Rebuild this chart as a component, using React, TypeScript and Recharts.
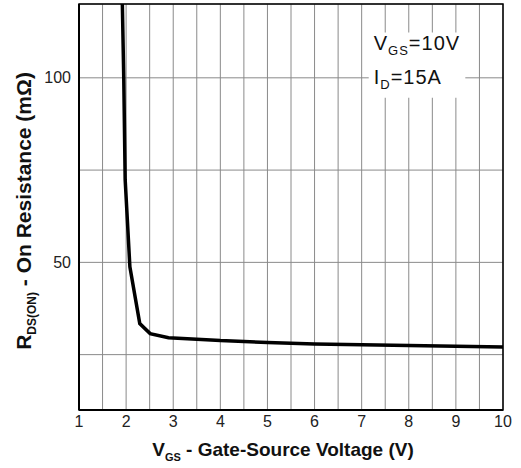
import React from 'react';
import {
  LineChart,
  Line,
  XAxis,
  YAxis,
  CartesianGrid,
  ReferenceArea,
} from 'recharts';

// Vgs (V) vs Rds(on) (mOhm)
const vgs = [1.92, 1.95, 1.98, 2.08, 2.29, 2.51, 2.9, 3.5, 4, 5, 6, 7, 8, 9, 10];
const rdsOn = [120, 100, 72.4, 48.8, 33.4, 30.7, 29.6, 29.2, 28.8, 28.3, 27.9, 27.7, 27.5, 27.3, 27.1];

const xTicks = [1, 1.5, 2, 2.5, 3, 3.5, 4, 4.5, 5, 5.5, 6, 6.5, 7, 7.5, 8, 8.5, 9, 9.5, 10];
const yTicks = [25, 50, 75, 100];
const yLabelled = [50, 100];

const data = vgs.map((v, i) => ({ vgs: v, rds: rdsOn[i] }));

const FONT = '"Liberation Sans", Arial, sans-serif';

function XTitle(props: any) {
  const { viewBox } = props;
  const cx = viewBox.x + viewBox.width / 2 - 8;
  return (
    <text x={cx} y={viewBox.y + 46} textAnchor="middle" fontFamily={FONT} fontWeight="bold" fontSize={19} fill="#111">
      <tspan>V</tspan>
      <tspan fontSize={11} dy={5}>GS</tspan>
      <tspan dy={-5}> - Gate-Source Voltage (V)</tspan>
    </text>
  );
}

function YTitle() {
  const cy = 211;
  const x = 31;
  return (
    <text
      x={x}
      y={cy}
      transform={`rotate(-90 ${x} ${cy})`}
      textAnchor="middle"
      fontFamily={FONT}
      fontWeight="bold"
      fontSize={21}
      fill="#111"
    >
      <tspan>R</tspan>
      <tspan fontSize={12} dy={5}>DS(ON)</tspan>
      <tspan dy={-5}> - On Resistance (mΩ)</tspan>
    </text>
  );
}

function Conditions(props: any) {
  const { viewBox } = props;
  const x = viewBox.x + 5;
  return (
    <g fontFamily={FONT} fontSize={20} fill="#111" letterSpacing={1}>
      <text x={x} y={viewBox.y + 18}>
        <tspan>V</tspan>
        <tspan fontSize={13} dy={5}>GS</tspan>
        <tspan dy={-5}>=10V</tspan>
      </text>
      <text x={x} y={viewBox.y + 52}>
        <tspan>I</tspan>
        <tspan fontSize={13} dy={5}>D</tspan>
        <tspan dy={-5}>=15A</tspan>
      </text>
    </g>
  );
}

export default function App() {
  return (
    <div style={{ position: 'absolute', left: 0, top: 0, width: 521, height: 468, background: '#fff' }}>
      <LineChart width={521} height={468} data={data} margin={{ top: 4, right: 18, bottom: 0, left: 0 }}>
        <CartesianGrid stroke="#8a8a8a" strokeWidth={1} />
        <XAxis
          dataKey="vgs"
          type="number"
          domain={[1, 10]}
          ticks={xTicks}
          interval={0}
          tickFormatter={(v: number) => (Number.isInteger(v) ? String(v) : '')}
          tickLine={false}
          axisLine={{ stroke: '#000', strokeWidth: 2 }}
          tick={{ fill: '#222', fontSize: 16, fontFamily: FONT, dy: -2 }}
          height={58}
          label={<XTitle />}
        />
        <YAxis
          type="number"
          domain={[10, 120]}
          ticks={yTicks}
          allowDataOverflow
          interval={0}
          tickFormatter={(v: number) => (yLabelled.includes(v) ? String(v) : '')}
          tickLine={false}
          axisLine={{ stroke: '#000', strokeWidth: 2 }}
          tick={{ fill: '#222', fontSize: 16, fontFamily: FONT }}
          width={79}
          label={<YTitle />}
        />
        <ReferenceArea x1={1} x2={10} y1={10} y2={120} fill="none" stroke="#000" strokeWidth={1.5} />
        <ReferenceArea
          x1={7.15}
          x2={9.2}
          y1={94.6}
          y2={112.3}
          fill="#fff"
          fillOpacity={1}
          stroke="none"
          label={<Conditions />}
        />
        <Line
          type="linear"
          dataKey="rds"
          stroke="#000"
          strokeWidth={3.5}
          dot={false}
          isAnimationActive={false}
        />
      </LineChart>
    </div>
  );
}
